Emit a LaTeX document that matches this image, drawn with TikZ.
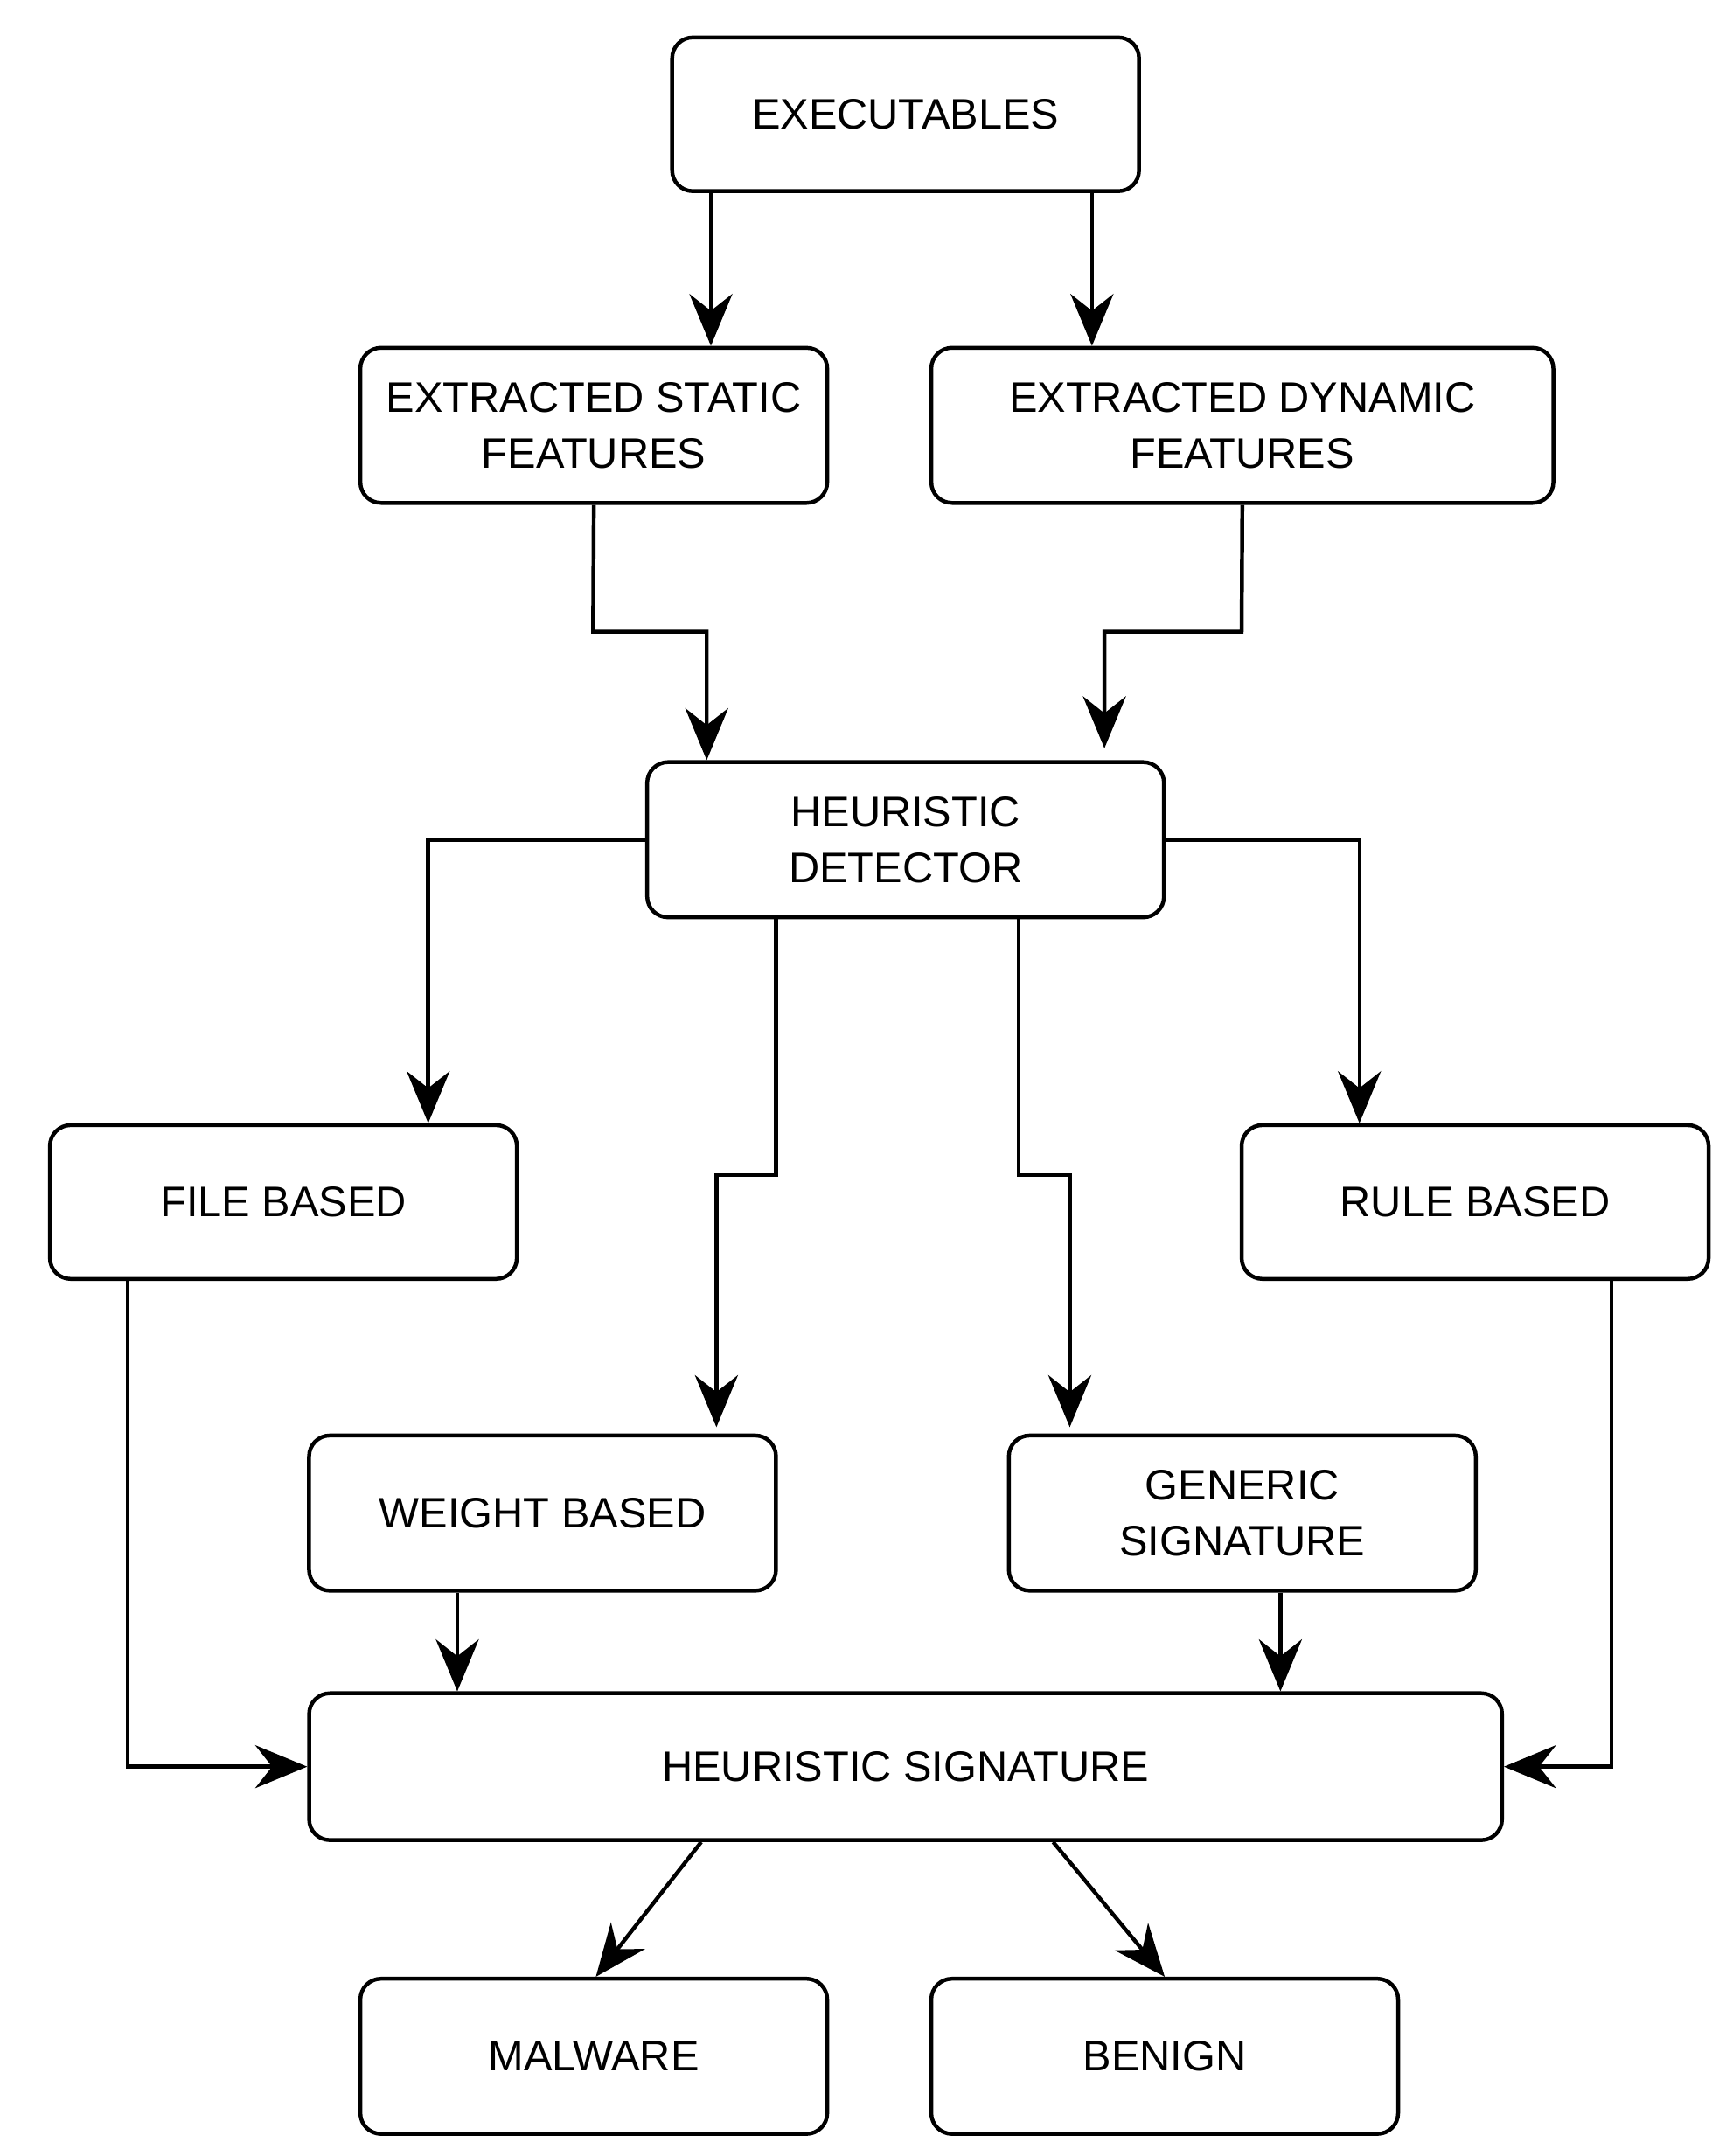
\documentclass[tikz,border=0pt]{standalone}
\usepackage{fontspec}
\setmainfont{Liberation Sans}
\usetikzlibrary{arrows.meta}
\begin{document}
\begin{tikzpicture}[x=0.02cm,y=-0.02cm,
  box/.style={draw,line width=1.6pt,rounded corners=0.3cm,align=center,inner sep=0pt,font=\fontsize{17.5}{23}\selectfont},
  arr/.style={line width=1.6pt,-{Stealth[length=0.75cm,width=0.62cm]}},
  ln/.style={line width=1.6pt}]
\useasboundingbox (0,0) rectangle (1250,1556);
\node[box,minimum width=6.74cm,minimum height=2.22cm] (ex) at (653.5,82.5) {EXECUTABLES};
\node[box,minimum width=6.74cm,minimum height=2.24cm] (st) at (428.5,307) {EXTRACTED STATIC\\FEATURES};
\node[box,minimum width=8.98cm,minimum height=2.24cm] (dy) at (896.5,307) {EXTRACTED DYNAMIC\\FEATURES};
\node[box,minimum width=7.46cm,minimum height=2.24cm] (hd) at (653.5,606) {HEURISTIC\\DETECTOR};
\node[box,minimum width=6.74cm,minimum height=2.22cm] (fb) at (204.5,867.5) {FILE BASED};
\node[box,minimum width=6.74cm,minimum height=2.22cm] (rb) at (1064.5,867.5) {RULE BASED};
\node[box,minimum width=6.74cm,minimum height=2.24cm] (wb) at (391.5,1092) {WEIGHT BASED};
\node[box,minimum width=6.74cm,minimum height=2.24cm] (gs) at (896.5,1092) {GENERIC\\SIGNATURE};
\node[box,minimum width=17.22cm,minimum height=2.12cm] (hs) at (653.5,1275) {HEURISTIC SIGNATURE};
\node[box,minimum width=6.74cm,minimum height=2.24cm] (mw) at (428.5,1484) {MALWARE};
\node[box,minimum width=6.74cm,minimum height=2.24cm] (bn) at (840.5,1484) {BENIGN};
\coordinate (dyend) at (797,540);
\coordinate (g1) at (517,1030);
\coordinate (g2) at (772,1030);
\draw[arr] (ex.south -| 513,0) -- (st.north -| 513,0);
\draw[arr] (ex.south -| 788,0) -- (dy.north -| 788,0);
\draw[arr] (st.south) -- (428,456) -- (510,456) -- (hd.north -| 510,0);
\draw[arr] (dy.south) -- (896,456) -- (797,456) -- (dyend);
\draw[arr] (hd.west) -- (309,606) -- (fb.north -| 309,0);
\draw[arr] (hd.east) -- (981,606) -- (rb.north -| 981,0);
\draw[arr] (hd.south -| 560,0) -- (560,848) -- (517,848) -- (g1);
\draw[arr] (hd.south -| 735,0) -- (735,848) -- (772,848) -- (g2);
\draw[arr] (fb.south -| 92,0) -- (92,1275) -- (hs.west);
\draw[arr] (rb.south -| 1163,0) -- (1163,1275) -- (hs.east);
\draw[arr] (wb.south -| 330,0) -- (hs.north -| 330,0);
\draw[arr] (gs.south -| 924,0) -- (hs.north -| 924,0);
\draw[arr] (hs.south -| 506,0) -- (mw.north -| 430,0);
\draw[arr] (hs.south -| 760,0) -- (bn.north);
\end{tikzpicture}
\end{document}
